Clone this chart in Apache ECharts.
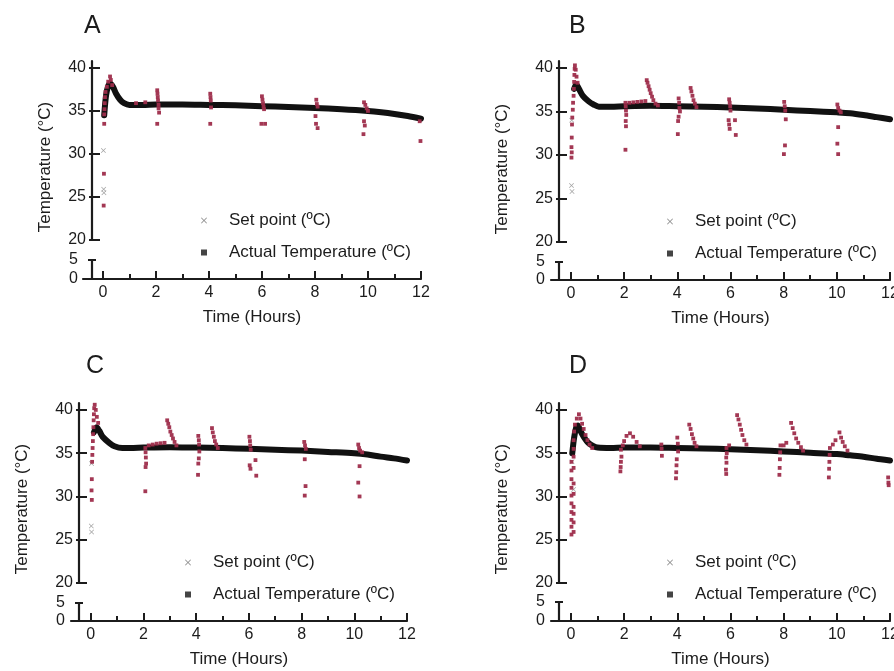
<!DOCTYPE html>
<html>
<head>
<meta charset="utf-8">
<script src="https://cdn.jsdelivr.net/npm/echarts@6/dist/echarts.min.js"></script>
<style>
html,body{margin:0;padding:0;background:#fff;}
#chart{width:894px;height:671px;}
</style>
</head>
<body>
<div id="chart"></div>
<script>
// ---------- DATA ----------
const panelLetters = ['A', 'B', 'C', 'D'];
const upperTicks = [20, 25, 30, 35, 40];
const lowerTicks = [0, 5];
const xMajorTicks = [0, 2, 4, 6, 8, 10, 12];
const xMinorTicks = [1, 3, 5, 7, 9, 11];
const seriesNames = ['Set point (ºC)', 'Actual Temperature (ºC)'];
const yTitle = 'Temperature (°C)';
const xTitle = 'Time (Hours)';

// Panel A
const setLineA = [[0.05,34.5],[0.12,36.8],[0.2,37.9],[0.28,38.2],[0.38,37.8],[0.5,37.0],[0.65,36.3],[0.8,35.9],[1.0,35.7],[1.5,35.7],[2,35.75],[3,35.75],[4,35.7],[5,35.65],[6,35.55],[7,35.45],[8,35.35],[9,35.2],[10,35.0],[10.5,34.85],[11,34.65],[11.5,34.4],[12,34.1]];
const setMarkA = [[0.02,30.4],[0.03,25.9],[0.04,25.5]];
const actualA = [[0.03,24.0],[0.04,27.7],[0.05,33.5],[0.05,34.6],[0.06,35.2],[0.07,35.9],[0.08,36.6],[0.1,37.2],[0.15,37.8],[0.2,38.4],[0.27,39.0],[0.3,38.6],[0.35,38.0],
  [1.25,35.9],[1.6,36.0],
  [2.05,37.4],[2.06,37.0],[2.07,36.6],[2.08,36.2],[2.1,35.7],[2.1,35.3],[2.12,34.8],[2.05,33.5],
  [4.05,37.0],[4.06,36.6],[4.07,36.2],[4.08,35.4],[4.05,33.5],
  [6.0,36.7],[6.02,36.3],[6.04,35.9],[6.06,35.5],[6.08,35.2],[5.98,33.5],[6.12,33.5],
  [8.05,36.3],[8.07,35.8],[8.1,35.5],[8.02,34.4],[8.04,33.5],[8.1,33.0],
  [9.85,36.0],[9.9,35.7],[9.95,35.3],[10.0,35.0],[9.85,33.8],[9.88,33.3],[9.83,32.3],
  [11.95,33.8],[11.98,31.5]];

// Panel B
const setLineB = [[0.12,37.6],[0.2,38.1],[0.3,37.6],[0.45,36.8],[0.65,36.2],[0.85,35.8],[1.05,35.55],[1.5,35.55],[2,35.6],[3,35.65],[4,35.6],[5,35.55],[6,35.45],[7,35.35],[8,35.2],[9,35.05],[10,34.9],[10.5,34.8],[11,34.6],[11.5,34.35],[12,34.1]];
const setMarkB = [[0.03,34.0],[0.02,26.5],[0.04,25.8]];
const actualB = [[0.02,29.7],[0.03,30.3],[0.02,30.9],[0.03,32.0],[0.04,33.5],[0.05,34.3],[0.07,35.2],[0.08,36.0],[0.1,36.8],[0.11,37.6],[0.12,38.4],[0.13,39.2],[0.14,39.9],[0.15,40.3],[0.18,39.8],[0.21,39.0],[0.25,38.3],
  [2.05,36.0],[2.06,35.6],[2.07,35.1],[2.08,34.6],[2.06,33.9],[2.07,33.3],[2.05,30.6],
  [2.2,36.0],[2.35,36.05],[2.5,36.1],[2.65,36.15],[2.8,36.2],
  [2.85,38.6],[2.88,38.3],[2.92,37.9],[2.96,37.5],[3.0,37.1],[3.05,36.7],[3.1,36.3],[3.18,35.9],[3.27,35.7],
  [4.05,36.5],[4.07,36.0],[4.08,35.4],[4.1,35.0],[4.05,34.4],[4.03,33.9],[4.02,32.4],
  [4.5,37.7],[4.53,37.3],[4.57,36.8],[4.61,36.3],[4.66,35.9],[4.72,35.5],
  [5.95,36.4],[5.97,36.0],[5.99,35.6],[6.0,35.1],[5.93,34.0],[5.95,33.5],[5.97,33.0],[6.17,34.0],[6.2,32.3],
  [8.02,36.1],[8.04,35.6],[8.06,35.1],[8.08,34.1],[8.05,31.1],[8.01,30.1],
  [10.02,35.8],[10.05,35.4],[10.1,35.1],[10.15,34.9],[10.05,33.2],[10.02,31.3],[10.05,30.1]];

// Panel C
const setLineC = [[0.12,37.4],[0.22,38.0],[0.32,37.6],[0.45,36.9],[0.7,36.2],[0.9,35.8],[1.2,35.6],[1.5,35.6],[2,35.65],[3,35.7],[4,35.65],[5,35.6],[6,35.5],[7,35.4],[8,35.3],[9,35.15],[10,35.0],[10.5,34.85],[11,34.6],[11.5,34.4],[12,34.15]];
const setMarkC = [[0.03,33.8],[0.02,26.6],[0.03,25.9]];
const actualC = [[0.04,29.6],[0.03,30.7],[0.04,32.0],[0.05,34.0],[0.06,34.8],[0.07,35.6],[0.08,36.4],[0.09,37.2],[0.1,38.0],[0.11,38.8],[0.12,39.5],[0.13,40.2],[0.15,40.6],[0.19,40.0],[0.23,39.2],[0.28,38.5],
  [2.07,35.6],[2.08,35.1],[2.09,34.5],[2.1,33.8],[2.08,33.4],[2.07,30.6],
  [2.2,35.9],[2.35,36.0],[2.5,36.1],[2.65,36.15],[2.8,36.2],
  [2.9,38.8],[2.94,38.4],[2.98,38.0],[3.02,37.5],[3.07,37.1],[3.12,36.7],[3.18,36.3],[3.25,35.9],
  [4.08,37.0],[4.1,36.5],[4.11,36.0],[4.12,35.2],[4.1,34.4],[4.08,33.8],[4.07,32.5],
  [4.6,37.9],[4.63,37.4],[4.67,36.9],[4.71,36.4],[4.76,36.0],[4.82,35.6],
  [6.02,36.9],[6.04,36.4],[6.05,35.9],[6.07,35.4],[6.03,33.6],[6.06,33.2],[6.25,34.2],[6.28,32.4],
  [8.1,36.3],[8.13,35.9],[8.16,35.5],[8.12,34.3],[8.15,31.2],[8.12,30.1],
  [10.15,36.0],[10.18,35.6],[10.22,35.3],[10.3,35.1],[10.2,33.5],[10.15,31.6],[10.2,30.0]];

// Panel D
const setLineD = [[0.05,35.0],[0.12,36.8],[0.2,38.0],[0.26,38.2],[0.35,37.6],[0.5,36.8],[0.65,36.2],[0.85,35.8],[1.0,35.65],[1.5,35.6],[2,35.65],[3,35.65],[4,35.6],[5,35.55],[6,35.45],[7,35.35],[8,35.2],[9,35.05],[10,34.9],[10.5,34.75],[11,34.6],[11.5,34.35],[12,34.15]];
const setMarkD = [[0.04,34.0],[0.1,30.8]];
const actualD = [[0.02,25.6],[0.02,26.5],[0.02,27.3],[0.02,28.2],[0.02,29.2],[0.02,30.1],[0.02,31.0],[0.02,32.0],[0.02,33.0],[0.02,34.0],
  [0.1,25.9],[0.1,27.0],[0.1,28.0],[0.1,28.8],[0.1,30.3],[0.1,31.5],[0.1,33.3],[0.1,34.6],[0.1,35.5],[0.1,36.5],[0.12,37.5],[0.15,38.3],
  [0.22,39.0],[0.3,39.5],[0.36,39.0],[0.42,38.4],[0.48,37.8],[0.55,37.1],[0.62,36.5],[0.7,36.0],[0.8,35.6],
  [1.88,35.4],[1.9,34.6],[1.88,34.0],[1.87,33.4],[1.86,32.9],[1.95,35.9],[2.0,36.4],[2.09,37.0],[2.22,37.3],[2.34,36.9],[2.47,36.3],[2.59,35.8],
  [3.4,36.0],[3.41,35.5],[3.42,34.7],
  [4.0,36.8],[4.02,36.1],[4.03,35.2],[3.98,34.3],[3.97,33.6],[3.96,32.8],[3.95,32.1],
  [4.45,38.3],[4.5,37.8],[4.55,37.2],[4.6,36.7],[4.65,36.2],[4.72,35.8],
  [5.85,35.6],[5.86,35.0],[5.84,34.5],[5.85,33.9],[5.83,33.1],[5.84,32.6],[5.95,35.9],
  [6.25,39.4],[6.3,38.9],[6.35,38.3],[6.4,37.7],[6.45,37.1],[6.52,36.5],[6.6,36.0],
  [7.88,35.9],[7.87,35.1],[7.86,34.3],[7.85,33.3],[7.84,32.5],[8.0,35.9],[8.1,36.2],
  [8.28,38.5],[8.34,37.9],[8.4,37.3],[8.47,36.7],[8.55,36.2],[8.65,35.7],[8.73,35.3],
  [9.74,35.6],[9.73,34.8],[9.72,34.0],[9.71,33.2],[9.7,32.2],[9.85,36.0],[9.95,36.5],
  [10.1,37.4],[10.16,36.8],[10.22,36.3],[10.3,35.8],[10.4,35.3],
  [11.93,32.2],[11.94,31.6],[11.95,31.3]];

const setLines = [setLineA, setLineB, setLineC, setLineD];
const setMarks = [setMarkA, setMarkB, setMarkC, setMarkD];
const actuals = [actualA, actualB, actualC, actualD];

// ---------- LAYOUT ----------
const Y_UP_MAX = 40.8;
const layout = [
  {up:{left:83, top:61, width:338, height:179}, lo:{left:83, top:260, width:338, height:19}, yOff:-9,
   letter:{left:84, top:14}, yTitle:[45,167], legend:{left:201, top:212}},
  {up:{left:551, top:61, width:339, height:181}, lo:{left:551, top:262, width:339, height:18}, yOff:-8,
   letter:{left:569, top:14}, yTitle:[502,169], legend:{left:667, top:213}},
  {up:{left:71, top:403, width:336, height:180}, lo:{left:71, top:603, width:336, height:18}, yOff:-8,
   letter:{left:86, top:354}, yTitle:[22,509], legend:{left:185, top:554}},
  {up:{left:551, top:403, width:339, height:180}, lo:{left:551, top:602, width:339, height:19}, yOff:-8,
   letter:{left:569, top:354}, yTitle:[502,509], legend:{left:667, top:554}}
];

const FONT = '"Liberation Sans", Arial, Helvetica, sans-serif';
const INK = '#1c1c1c';
const RED = '#9e2d4b';
const XPATH = 'path://M1,0L5,4L9,0L10,1L6,5L10,9L9,10L5,6L1,10L0,9L4,5L0,1Z';
const SQPATH = 'path://M0,0L10,0L10,10L0,10Z';
const X_MIN = -0.75, X_MAX = 12;

const grid = [], xAxis = [], yAxis = [], series = [], title = [], legend = [], graphic = [];

layout.forEach((L, i) => {
  const gUp = grid.length;
  grid.push(Object.assign({outerBoundsMode:'none', containLabel:false}, L.up));
  const gLo = grid.length;
  grid.push(Object.assign({outerBoundsMode:'none', containLabel:false}, L.lo));

  // x axes
  const xUp = xAxis.length;
  xAxis.push({type:'value', gridIndex:gUp, min:X_MIN, max:X_MAX, show:false});
  xAxis.push({type:'value', gridIndex:gLo, min:X_MIN, max:X_MAX, position:'bottom',
    axisLine:{onZero:false, lineStyle:{color:INK, width:2.2}},
    axisTick:{inside:true, length:8, lineStyle:{color:INK, width:2}, customValues:xMajorTicks},
    axisLabel:{customValues:xMajorTicks, margin:6, fontSize:16, color:INK, fontFamily:FONT},
    splitLine:{show:false},
    name:xTitle, nameLocation:'middle', nameGap:30,
    nameTextStyle:{fontSize:17, color:INK, fontFamily:FONT}});
  xAxis.push({type:'value', gridIndex:gLo, min:X_MIN, max:X_MAX, position:'bottom',
    axisLine:{show:false, onZero:false},
    axisTick:{inside:true, length:5, lineStyle:{color:INK, width:2}, customValues:xMinorTicks},
    axisLabel:{show:false}, splitLine:{show:false}});

  // y axes
  const yUp = yAxis.length;
  yAxis.push({type:'value', gridIndex:gUp, min:20, max:Y_UP_MAX, position:'left', offset:L.yOff,
    axisLine:{show:true, onZero:false, lineStyle:{color:INK, width:2.2}},
    axisTick:{show:true, inside:false, length:3, lineStyle:{color:INK, width:2}, customValues:upperTicks},
    axisLabel:{customValues:upperTicks, margin:6, fontSize:16, color:INK, fontFamily:FONT},
    splitLine:{show:false}});
  yAxis.push({type:'value', gridIndex:gUp, min:20, max:Y_UP_MAX, position:'left', offset:L.yOff,
    axisLine:{show:false, onZero:false},
    axisTick:{show:true, inside:true, length:8, lineStyle:{color:INK, width:2}, customValues:upperTicks},
    axisLabel:{show:false}, splitLine:{show:false}});
  yAxis.push({type:'value', gridIndex:gLo, min:0, max:5, position:'left', offset:L.yOff,
    axisLine:{show:true, onZero:false, lineStyle:{color:INK, width:2.2}},
    axisTick:{show:true, inside:false, length:4, lineStyle:{color:INK, width:2}, customValues:[5]},
    axisLabel:{customValues:lowerTicks, margin:14, fontSize:16, color:INK, fontFamily:FONT},
    splitLine:{show:false}});
  yAxis.push({type:'value', gridIndex:gLo, min:0, max:5, position:'left', offset:L.yOff,
    axisLine:{show:false, onZero:false},
    axisTick:{show:true, inside:true, length:4, lineStyle:{color:INK, width:2}, customValues:[5]},
    axisLabel:{show:false}, splitLine:{show:false}});

  // series
  series.push({type:'line', name:seriesNames[0], xAxisIndex:xUp, yAxisIndex:yUp,
    data:setLines[i], showSymbol:false, symbol:'none', smooth:0.3,
    lineStyle:{color:'#111', width:6, cap:'round', join:'round'}, itemStyle:{color:'#111'},
    z:3, silent:true, animation:false});
  series.push({type:'scatter', name:seriesNames[0], xAxisIndex:xUp, yAxisIndex:yUp,
    data:setMarks[i], symbol:XPATH, symbolSize:5, itemStyle:{color:'#8c8c8c'},
    z:3, silent:true, animation:false});
  series.push({type:'scatter', name:seriesNames[1], xAxisIndex:xUp, yAxisIndex:yUp,
    data:actuals[i], symbol:'rect', symbolSize:3.8, itemStyle:{color:RED, opacity:0.95},
    z:4, silent:true, animation:false});

  title.push({text:panelLetters[i], left:L.letter.left, top:L.letter.top, padding:0,
    textStyle:{fontSize:25, fontWeight:'normal', color:INK, fontFamily:FONT}});

  legend.push({orient:'vertical', left:L.legend.left, top:L.legend.top, padding:0,
    itemWidth:40, itemHeight:6, itemGap:15, symbolKeepAspect:true, selectedMode:false,
    textStyle:{fontSize:17, color:INK, fontFamily:FONT},
    data:[{name:seriesNames[0], icon:XPATH, itemStyle:{color:'#8c8c8c'}},
          {name:seriesNames[1], icon:SQPATH, itemStyle:{color:'#3a3a3a'}}]});

  graphic.push({type:'text', x:L.yTitle[0], y:L.yTitle[1], rotation:Math.PI/2, silent:true,
    style:{text:yTitle, fontSize:17, fill:INK, fontFamily:FONT, align:'center', verticalAlign:'middle'}});
});

const chart = echarts.init(document.getElementById('chart'), null, {renderer:'canvas'});
chart.setOption({
  backgroundColor:'#ffffff',
  animation:false,
  title, legend, grid, xAxis, yAxis, series, graphic
});
</script>
</body>
</html>
